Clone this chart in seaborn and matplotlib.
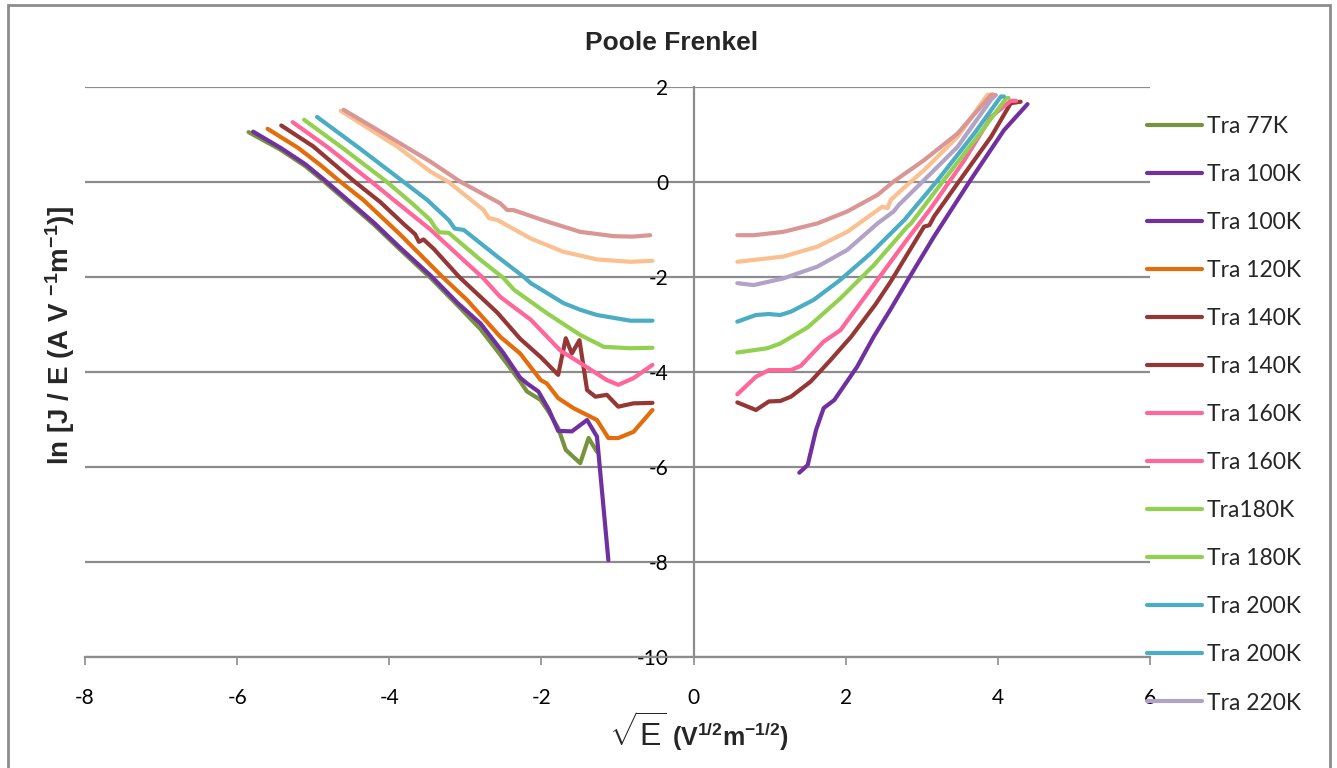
import matplotlib
matplotlib.use("Agg")
import matplotlib.pyplot as plt
import seaborn as sns
from matplotlib.patches import Rectangle

# ---- measured curves: sqrt(E) (x) vs ln(J/E) (y) ----
# 77 K, negative field
x77_neg = [-5.85, -5.43, -5.10, -4.85, -4.56, -4.20, -3.86, -3.45, -3.10, -2.80,
           -2.54, -2.28, -2.19, -2.01, -1.90, -1.78, -1.68, -1.49, -1.38, -1.27]
y77_neg = [1.05, 0.68, 0.33, 0.00, -0.40, -0.90, -1.42, -2.03, -2.60, -3.10,
           -3.64, -4.20, -4.41, -4.59, -4.85, -5.18, -5.64, -5.92, -5.39, -5.68]

# 100 K
x100_neg = [-5.79, -5.43, -5.10, -4.85, -4.56, -4.20, -3.86, -3.45, -3.10, -2.80,
            -2.50, -2.28, -2.19, -2.04, -1.90, -1.78, -1.60, -1.40, -1.27, -1.12]
y100_neg = [1.06, 0.72, 0.37, 0.04, -0.36, -0.86, -1.38, -1.98, -2.55, -2.98,
            -3.60, -4.12, -4.24, -4.41, -4.80, -5.24, -5.25, -5.01, -5.36, -7.96]
x100_pos = [1.39, 1.50, 1.61, 1.71, 1.85, 2.15, 2.37, 2.59, 2.81, 3.16, 3.64, 4.08, 4.39]
y100_pos = [-6.12, -5.96, -5.22, -4.76, -4.59, -3.89, -3.25, -2.68, -2.08, -1.15, 0.04, 1.09, 1.64]

# 120 K
x120_neg = [-5.60, -5.20, -4.90, -4.64, -4.34, -3.86, -3.30, -2.98, -2.54, -2.28,
            -2.01, -1.93, -1.78, -1.58, -1.27, -1.12, -0.99, -0.79, -0.54]
y120_neg = [1.12, 0.72, 0.35, 0.00, -0.38, -1.10, -2.00, -2.48, -3.26, -3.61,
            -4.17, -4.24, -4.55, -4.76, -5.01, -5.39, -5.39, -5.26, -4.80]

# 140 K
x140_neg = [-5.42, -5.00, -4.45, -4.12, -3.80, -3.66, -3.61, -3.55, -3.42, -3.08,
            -2.58, -2.28, -2.00, -1.78, -1.68, -1.60, -1.50, -1.40, -1.29, -1.14,
            -0.99, -0.79, -0.54]
y140_neg = [1.19, 0.75, 0.00, -0.42, -0.90, -1.10, -1.26, -1.21, -1.40, -2.00,
            -2.75, -3.30, -3.70, -4.06, -3.29, -3.61, -3.33, -4.38, -4.52, -4.48,
            -4.73, -4.66, -4.65]
x140_pos = [0.575, 0.82, 0.99, 1.14, 1.28, 1.54, 1.80, 2.07, 2.39, 2.59, 3.03, 3.10,
            3.16, 3.47, 3.91, 4.17, 4.30]
y140_pos = [-4.64, -4.80, -4.62, -4.61, -4.52, -4.20, -3.75, -3.26, -2.58, -2.10,
            -0.94, -0.91, -0.73, -0.03, 0.95, 1.66, 1.69]

# 160 K
x160_neg = [-5.27, -4.80, -4.23, -3.94, -3.46, -3.00, -2.78, -2.54, -2.14, -1.75,
            -1.49, -1.14, -0.99, -0.79, -0.54]
y160_neg = [1.26, 0.72, 0.00, -0.38, -1.00, -1.68, -2.00, -2.42, -2.90, -3.55,
            -3.81, -4.17, -4.27, -4.13, -3.85]
x160_pos = [0.575, 0.82, 0.99, 1.28, 1.41, 1.71, 1.93, 2.33, 2.77, 3.12, 3.56, 3.91,
            4.17, 4.24]
y160_pos = [-4.47, -4.10, -3.96, -3.96, -3.87, -3.36, -3.12, -2.25, -1.29, -0.55,
            0.46, 1.37, 1.71, 1.71]

# 180 K
x180_neg = [-5.12, -4.60, -4.03, -3.70, -3.46, -3.40, -3.34, -3.22, -2.80, -2.50,
            -2.36, -1.93, -1.49, -1.18, -0.83, -0.54]
y180_neg = [1.31, 0.70, 0.00, -0.45, -0.80, -0.95, -1.06, -1.07, -1.64, -2.02,
            -2.27, -2.76, -3.22, -3.47, -3.50, -3.49]
x180_pos = [0.575, 0.97, 1.14, 1.50, 1.93, 2.37, 2.81, 2.86, 3.29, 3.73, 4.11, 4.14]
y180_pos = [-3.59, -3.50, -3.40, -3.06, -2.45, -1.75, -0.94, -0.87, 0.04, 0.95, 1.76, 1.77]

# 200 K
x200_neg = [-4.95, -4.40, -3.81, -3.50, -3.22, -3.14, -3.02, -2.58, -2.23, -2.14,
            -1.71, -1.49, -1.27, -0.83, -0.54]
y200_neg = [1.37, 0.72, 0.00, -0.38, -0.80, -0.98, -1.01, -1.57, -2.00, -2.13,
            -2.55, -2.69, -2.80, -2.92, -2.92]
x200_pos = [0.575, 0.82, 0.99, 1.14, 1.28, 1.58, 1.93, 2.33, 2.77, 3.21, 3.69, 4.04, 4.08]
y200_pos = [-2.94, -2.80, -2.78, -2.80, -2.73, -2.48, -2.06, -1.50, -0.80, 0.04,
            1.02, 1.80, 1.80]

# 220 K
x220_pos = [0.575, 0.79, 1.18, 1.63, 2.02, 2.42, 2.63, 2.70, 3.03, 3.47, 3.91, 3.97]
y220_pos = [-2.13, -2.17, -2.03, -1.78, -1.43, -0.87, -0.62, -0.48, 0.04, 0.74, 1.73, 1.83]

# 240 K
x240_neg = [-4.64, -3.90, -3.46, -3.22, -2.76, -2.69, -2.58, -2.14, -1.71, -1.27,
            -0.83, -0.54]
y240_neg = [1.50, 0.75, 0.22, 0.00, -0.59, -0.76, -0.80, -1.19, -1.47, -1.63,
            -1.68, -1.66]
x240_pos = [0.575, 1.18, 1.63, 2.02, 2.42, 2.48, 2.55, 2.59, 2.76, 3.03, 3.47, 3.86, 3.93]
y240_pos = [-1.68, -1.57, -1.36, -1.05, -0.59, -0.52, -0.55, -0.38, -0.13, 0.25,
            0.95, 1.83, 1.85]

# 260 K
x260_neg = [-4.60, -4.00, -3.46, -3.07, -2.54, -2.45, -2.37, -1.93, -1.49, -1.05,
            -0.80, -0.57]
y260_neg = [1.52, 0.95, 0.43, 0.01, -0.45, -0.59, -0.59, -0.83, -1.05, -1.14,
            -1.15, -1.12]
x260_pos = [0.575, 0.79, 1.18, 1.63, 2.02, 2.42, 2.63, 3.03, 3.47, 3.91, 3.97]
y260_pos = [-1.12, -1.12, -1.05, -0.87, -0.62, -0.27, 0.01, 0.46, 1.02, 1.83, 1.83]

legend_labels = ["Tra 77K", "Tra 100K", "Tra 100K", "Tra 120K", "Tra 140K", "Tra 140K",
                 "Tra 160K", "Tra 160K", "Tra180K", "Tra 180K", "Tra 200K", "Tra 200K",
                 "Tra 220K"]

x_ticks = [-8, -6, -4, -2, 0, 2, 4, 6]
y_ticks = [-10, -8, -6, -4, -2, 0, 2]

OLIVE, PURPLE, ORANGE, DKRED = "#77933C", "#7030A0", "#E46C0A", "#953735"
PINK, GREEN, BLUE, LAVENDER = "#FF6699", "#92D050", "#4BACC6", "#B3A2C7"
PEACH, ROSE = "#FAC090", "#D99694"

# drawing order; first 13 go into the legend
curves = [
    (x77_neg, y77_neg, OLIVE),
    (x100_neg, y100_neg, PURPLE),
    (x100_pos, y100_pos, PURPLE),
    (x120_neg, y120_neg, ORANGE),
    (x140_neg, y140_neg, DKRED),
    (x140_pos, y140_pos, DKRED),
    (x160_neg, y160_neg, PINK),
    (x160_pos, y160_pos, PINK),
    (x180_neg, y180_neg, GREEN),
    (x180_pos, y180_pos, GREEN),
    (x200_neg, y200_neg, BLUE),
    (x200_pos, y200_pos, BLUE),
    (x220_pos, y220_pos, LAVENDER),
    (x240_neg, y240_neg, PEACH),
    (x240_pos, y240_pos, PEACH),
    (x260_neg, y260_neg, ROSE),
    (x260_pos, y260_pos, ROSE),
]

sns.set_theme(style="white")
plt.rcParams["font.family"] = ["Lato", "DejaVu Sans"]
plt.rcParams["mathtext.fontset"] = "custom"
plt.rcParams["mathtext.rm"] = "Liberation Sans"
plt.rcParams["mathtext.bf"] = "Liberation Sans:bold"
plt.rcParams["mathtext.it"] = "Liberation Sans:italic"

W, H = 1337, 768
fig = plt.figure(figsize=(W / 100, H / 100), dpi=100)
ax = fig.add_axes([85 / W, 1 - 657 / H, 1065 / W, 570 / H])

GRID = "#8c8c8c"
handles = []
for xs, ys, col in curves:
    sns.lineplot(x=xs, y=ys, ax=ax, color=col, linewidth=3.0, sort=False,
                 estimator=None, legend=False)
    ln = ax.lines[-1]
    ln.set_solid_joinstyle("round")
    ln.set_solid_capstyle("round")
    handles.append(ln)

ax.set_xlim(-8, 6)
ax.set_ylim(-10, 2)
ax.set_xticks(x_ticks)
ax.set_yticks(y_ticks)
ax.set_xticklabels([str(v) for v in x_ticks])
ax.set_yticklabels([str(v) for v in y_ticks])
ax.yaxis.grid(True, color=GRID, linewidth=1.6)
ax.xaxis.grid(False)
ax.set_axisbelow(True)

for s in ("top", "right"):
    ax.spines[s].set_visible(False)
ax.spines["left"].set_position(("data", 0))
ax.spines["left"].set_color(GRID)
ax.spines["left"].set_linewidth(1.6)
ax.spines["bottom"].set_color(GRID)
ax.spines["bottom"].set_linewidth(1.6)

ax.tick_params(axis="x", bottom=True, direction="out", length=6, width=1.2,
               color=GRID, pad=16, labelsize=15, labelcolor="black")
ax.tick_params(axis="y", left=False, length=0, pad=18, labelsize=15,
               labelcolor="black")
ax.set_xlabel("")
ax.set_ylabel("")

# title and axis titles
fig.text(672 / W, 1 - 43 / H, "Poole Frenkel", ha="center", va="center",
         fontsize=19, fontweight="bold", family="Liberation Sans")
fig.text(60 / W, 1 - 335 / H,
         r"ln [J / E (A V $^{\mathbf{-1}}$m$^{\mathbf{-1}}$)]",
         rotation=90, ha="center", va="center", fontsize=20,
         fontweight="bold", family="Liberation Sans")
fig.text(638 / W, 1 - 733 / H, r"$\sqrt{\mathrm{E}}$", ha="center", va="center",
         fontsize=23)
fig.text(672 / W, 1 - 737 / H, r"(V$^{\mathbf{1/2}}$m$^{\mathbf{-1/2}}$)",
         ha="left", va="center", fontsize=18, fontweight="bold",
         family="Liberation Sans")

fig.legend(handles[:13], legend_labels, loc="upper left",
           bbox_to_anchor=(1147 / W, 1 - 116 / H), frameon=False, fontsize=16.5,
           handlelength=2.4, handletextpad=0.2, labelspacing=1.18,
           borderaxespad=0, borderpad=0)

# chart-area border
fig.add_artist(Rectangle((8 / W, -0.05), (1330 - 8) / W, 1.05 - 5 / H,
                         transform=fig.transFigure, fill=False,
                         edgecolor=GRID, linewidth=2))

fig.savefig("out.png", dpi=100)
